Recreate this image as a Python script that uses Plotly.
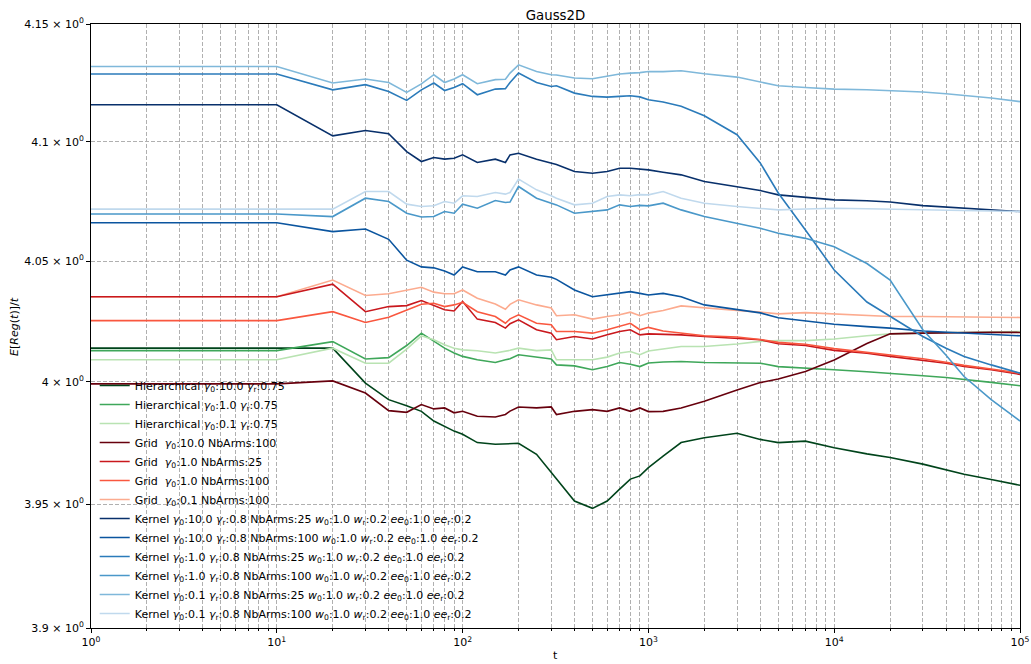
import plotly.graph_objects as go

# ---------------- data ----------------
t = [1, 10, 20, 30, 40, 50, 60, 70, 80, 90, 100, 120, 150, 170, 180, 200, 250, 300, 320,
     400, 500, 600, 700, 800, 900, 1000, 1200, 1500, 2000, 3000, 4000, 5000, 7000,
     10000, 15000, 20000, 30000, 40000, 50000, 70000, 100000]

hier_10 = [4.0139, 4.0139, 4.0139, 3.9995, 3.9927, 3.9902, 3.9879, 3.9839, 3.9818, 3.9798,
           3.9785, 3.9751, 3.9744, 3.9745, 3.9747, 3.9748, 3.9703, 3.9629, 3.9600, 3.9513,
           3.9483, 3.9513, 3.9561, 3.9602, 3.9615, 3.9649, 3.9696, 3.9751, 3.9771, 3.9789,
           3.9764, 3.9751, 3.9757, 3.9730, 3.9705, 3.9690, 3.9663, 3.9640, 3.9622, 3.9600,
           3.9577]
hier_1 = [4.0129, 4.0129, 4.0166, 4.0094, 4.0100, 4.0150, 4.0201, 4.0166, 4.0139, 4.0119,
          4.0105, 4.0091, 4.0080, 4.0091, 4.0095, 4.0112, 4.0102, 4.0094, 4.0070, 4.0066,
          4.0050, 4.0063, 4.0080, 4.0073, 4.0063, 4.0078, 4.0082, 4.0084, 4.0080, 4.0077,
          4.0077, 4.0063, 4.0058, 4.0050, 4.0042, 4.0036, 4.0025, 4.0018, 4.0011, 3.9998,
          3.9984]
hier_01 = [4.0091, 4.0091, 4.0139, 4.0077, 4.0077, 4.0135, 4.0190, 4.0174, 4.0153, 4.0139,
           4.0132, 4.0128, 4.0119, 4.0125, 4.0130, 4.0139, 4.0129, 4.0132, 4.0091, 4.0091,
           4.0091, 4.0102, 4.0119, 4.0125, 4.0112, 4.0127, 4.0135, 4.0146, 4.0146, 4.0156,
           4.0167, 4.0170, 4.0170, 4.0177, 4.0190, 4.0198, 4.0201, 4.0203, 4.0205, 4.0206,
           4.0208]
grid_10_100 = [3.9992, 3.9992, 4.0004, 3.9954, 3.9882, 3.9875, 3.9907, 3.9889, 3.9893, 3.9873,
               3.9879, 3.9859, 3.9856, 3.9866, 3.9880, 3.9897, 3.9893, 3.9897, 3.9866, 3.9879,
               3.9886, 3.9879, 3.9893, 3.9879, 3.9893, 3.9878, 3.9879, 3.9893, 3.9920, 3.9967,
               3.9997, 4.0012, 4.0043, 4.0090, 4.0158, 4.0198, 4.0201, 4.0203, 4.0204, 4.0205,
               4.0204]
grid_1_25 = [4.0352, 4.0352, 4.0404, 4.0290, 4.0311, 4.0315, 4.0336, 4.0315, 4.0298, 4.0293,
             4.0332, 4.0259, 4.0245, 4.0222, 4.0240, 4.0256, 4.0215, 4.0201, 4.0174, 4.0187,
             4.0177, 4.0194, 4.0208, 4.0215, 4.0194, 4.0198, 4.0196, 4.0194, 4.0187, 4.0180,
             4.0174, 4.0157, 4.0150, 4.0130, 4.0118, 4.0105, 4.0090, 4.0077, 4.0063, 4.0050,
             4.0031]
grid_1_100 = [4.0253, 4.0253, 4.0290, 4.0245, 4.0267, 4.0298, 4.0321, 4.0325, 4.0311, 4.0318,
              4.0329, 4.0290, 4.0270, 4.0242, 4.0260, 4.0277, 4.0242, 4.0236, 4.0208, 4.0208,
              4.0201, 4.0215, 4.0229, 4.0242, 4.0215, 4.0225, 4.0210, 4.0201, 4.0190, 4.0185,
              4.0175, 4.0163, 4.0155, 4.0137, 4.0122, 4.0110, 4.0095, 4.0081, 4.0068, 4.0053,
              4.0036]
grid_01_100 = [4.0352, 4.0352, 4.0421, 4.0357, 4.0364, 4.0380, 4.0391, 4.0371, 4.0364, 4.0364,
               4.0380, 4.0346, 4.0322, 4.0300, 4.0320, 4.0339, 4.0318, 4.0305, 4.0273, 4.0277,
               4.0259, 4.0270, 4.0277, 4.0288, 4.0273, 4.0284, 4.0295, 4.0314, 4.0305, 4.0295,
               4.0288, 4.0281, 4.0286, 4.0281, 4.0275, 4.0270, 4.0270, 4.0269, 4.0268, 4.0267,
               4.0266]
kern_10_25 = [4.1157, 4.1157, 4.1025, 4.1048, 4.1034, 4.0959, 4.0917, 4.0934, 4.0927, 4.0931,
              4.0945, 4.0913, 4.0927, 4.0913, 4.0945, 4.0952, 4.0927, 4.0913, 4.0905, 4.0875,
              4.0868, 4.0875, 4.0889, 4.0889, 4.0885, 4.0882, 4.0872, 4.0861, 4.0833, 4.0812,
              4.0795, 4.0777, 4.0767, 4.0756, 4.0752, 4.0747, 4.0732, 4.0726, 4.0721, 4.0714,
              4.0707]
kern_10_100 = [4.0660, 4.0660, 4.0623, 4.0634, 4.0591, 4.0504, 4.0476, 4.0472, 4.0459, 4.0442,
               4.0476, 4.0456, 4.0456, 4.0442, 4.0463, 4.0476, 4.0442, 4.0433, 4.0424, 4.0380,
               4.0352, 4.0359, 4.0366, 4.0373, 4.0366, 4.0359, 4.0366, 4.0352, 4.0318, 4.0300,
               4.0285, 4.0265, 4.0252, 4.0238, 4.0228, 4.0222, 4.0210, 4.0205, 4.0201, 4.0196,
               4.0190]
kern_1_25 = [4.1287, 4.1287, 4.1220, 4.1242, 4.1213, 4.1175, 4.1220, 4.1249, 4.1217, 4.1230,
             4.1246, 4.1199, 4.1223, 4.1225, 4.1251, 4.1291, 4.1251, 4.1234, 4.1237, 4.1206,
             4.1192, 4.1189, 4.1192, 4.1195, 4.1190, 4.1178, 4.1168, 4.1150, 4.1110, 4.1030,
             4.0911, 4.0785, 4.0630, 4.0463, 4.0330, 4.0270, 4.0187, 4.0139, 4.0105, 4.0070,
             4.0036]
kern_1_100 = [4.0697, 4.0697, 4.0686, 4.0763, 4.0749, 4.0700, 4.0684, 4.0686, 4.0707, 4.0700,
              4.0738, 4.0721, 4.0753, 4.0745, 4.0747, 4.0812, 4.0763, 4.0742, 4.0735, 4.0700,
              4.0707, 4.0714, 4.0735, 4.0728, 4.0733, 4.0731, 4.0742, 4.0714, 4.0686, 4.0658,
              4.0637, 4.0616, 4.0595, 4.0560, 4.0490, 4.0421, 4.0215, 4.0110, 4.0022, 3.9927,
              3.9839]
kern_01_25 = [4.1319, 4.1319, 4.1249, 4.1266, 4.1251, 4.1209, 4.1245, 4.1284, 4.1251, 4.1266,
              4.1284, 4.1246, 4.1263, 4.1265, 4.1291, 4.1326, 4.1298, 4.1284, 4.1283, 4.1270,
              4.1267, 4.1277, 4.1287, 4.1291, 4.1293, 4.1298, 4.1297, 4.1301, 4.1288, 4.1274,
              4.1253, 4.1237, 4.1230, 4.1223, 4.1220, 4.1217, 4.1211, 4.1203, 4.1196, 4.1185,
              4.1170]
kern_01_100 = [4.0717, 4.0717, 4.0717, 4.0791, 4.0791, 4.0738, 4.0728, 4.0731, 4.0749, 4.0742,
               4.0773, 4.0770, 4.0787, 4.0780, 4.0787, 4.0843, 4.0798, 4.0773, 4.0763, 4.0735,
               4.0742, 4.0770, 4.0777, 4.0773, 4.0778, 4.0777, 4.0791, 4.0763, 4.0742, 4.0728,
               4.0720, 4.0714, 4.0718, 4.0721, 4.0719, 4.0717, 4.0715, 4.0713, 4.0711, 4.0709,
               4.0707]

G0 = "<i>γ</i><sub>0</sub>"
GR = "<i>γ</i><sub>r</sub>"
KTAIL = " <i>w</i><sub>0</sub>:1.0 <i>w</i><sub>r</sub>:0.2 <i>ee</i><sub>0</sub>:1.0 <i>ee</i><sub>r</sub>:0.2"

# (legend rank, name, values, colour) in draw order
series = [
    (1, f"Hierarchical {G0}:10.0 {GR}:0.75", hier_10, "#00441b"),
    (2, f"Hierarchical {G0}:1.0 {GR}:0.75", hier_1, "#3fa75a"),
    (3, f"Hierarchical {G0}:0.1 {GR}:0.75", hier_01, "#b9e3b2"),
    (4, f"Grid  {G0}:10.0 NbArms:100", grid_10_100, "#67000d"),
    (7, f"Grid  {G0}:0.1 NbArms:100", grid_01_100, "#fcab8f"),
    (5, f"Grid  {G0}:1.0 NbArms:25", grid_1_25, "#c9181d"),
    (6, f"Grid  {G0}:1.0 NbArms:100", grid_1_100, "#f9573f"),
    (8, f"Kernel {G0}:10.0 {GR}:0.8 NbArms:25" + KTAIL, kern_10_25, "#08306b"),
    (9, f"Kernel {G0}:10.0 {GR}:0.8 NbArms:100" + KTAIL, kern_10_100, "#0b559f"),
    (10, f"Kernel {G0}:1.0 {GR}:0.8 NbArms:25" + KTAIL, kern_1_25, "#2b7bba"),
    (11, f"Kernel {G0}:1.0 {GR}:0.8 NbArms:100" + KTAIL, kern_1_100, "#4a98c9"),
    (12, f"Kernel {G0}:0.1 {GR}:0.8 NbArms:25" + KTAIL, kern_01_25, "#7fb8da"),
    (13, f"Kernel {G0}:0.1 {GR}:0.8 NbArms:100" + KTAIL, kern_01_100, "#c0d9ed"),
]

x_tickvals = [1, 10, 100, 1000, 10000, 100000]
x_ticktext = ["10<sup>0</sup>", "10<sup>1</sup>", "10<sup>2</sup>", "10<sup>3</sup>",
              "10<sup>4</sup>", "10<sup>5</sup>"]
x_minor = [k * 10 ** d for d in range(5) for k in range(2, 10)]
y_tickvals = [3.9, 3.95, 4.0, 4.05, 4.1, 4.15]
y_ticktext = ["3.9 × 10<sup>0</sup>", "3.95 × 10<sup>0</sup>", "4 × 10<sup>0</sup>",
              "4.05 × 10<sup>0</sup>", "4.1 × 10<sup>0</sup>", "4.15 × 10<sup>0</sup>"]

fig = go.Figure()
for rank, name, vals, col in series:
    fig.add_trace(go.Scatter(x=t, y=vals, mode="lines", name=name, legendrank=rank,
                             line=dict(color=col, width=1.6)))

FONT = "DejaVu Sans"
GRID = "#b0b0b0"
fig.update_layout(
    width=1031, height=664,
    margin=dict(l=91, r=11, t=24, b=36, autoexpand=False),
    paper_bgcolor="white", plot_bgcolor="white",
    font=dict(family=FONT, size=11, color="black"),
    title=dict(text="Gauss2D", x=0.5, xref="paper", y=1, yref="paper", yanchor="bottom",
               pad=dict(b=4), font=dict(family=FONT, size=13.3, color="black")),
    showlegend=True,
    legend=dict(x=0.004, y=0.0, xanchor="left", yanchor="bottom",
                bgcolor="rgba(0,0,0,0)", borderwidth=0,
                font=dict(family=FONT, size=11, color="black"),
                traceorder="normal", itemwidth=30),
    xaxis=dict(type="log", range=[0, 5], tickmode="array", tickvals=x_tickvals,
               ticktext=x_ticktext, ticks="outside", ticklen=4, tickcolor="black",
               showline=True, linecolor="black", linewidth=1, mirror=True,
               showgrid=True, gridcolor=GRID, griddash="4px,2px", gridwidth=0.8,
               zeroline=False, automargin=False,
               minor=dict(tickmode="array", tickvals=x_minor, ticks="outside", ticklen=2,
                          tickcolor="black", showgrid=True, gridcolor=GRID,
                          griddash="4px,2px", gridwidth=0.8)),
    yaxis=dict(type="log", range=[0.591065, 0.618048], tickmode="array",
               tickvals=y_tickvals, ticktext=y_ticktext, ticks="outside", ticklen=4,
               tickcolor="black", showline=True, linecolor="black", linewidth=1,
               mirror=True, showgrid=True, gridcolor=GRID, griddash="4px,2px",
               gridwidth=0.8, zeroline=False, automargin=False),
    annotations=[
        dict(text="t", xref="paper", yref="paper", x=0.5, y=-0.045, showarrow=False,
             xanchor="center", yanchor="middle", font=dict(family=FONT, size=11)),
        dict(text="<i>E</i>[<i>Reg</i>(<i>t</i>)]/<i>t</i>", xref="paper", yref="paper",
             x=-0.083, y=0.5, textangle=-90, showarrow=False, xanchor="center",
             yanchor="middle", font=dict(family=FONT, size=11)),
    ],
)

fig.write_html("out.html", config={"displayModeBar": False},
               post_script="document.body.style.margin='0';document.body.style.overflow='hidden';")
